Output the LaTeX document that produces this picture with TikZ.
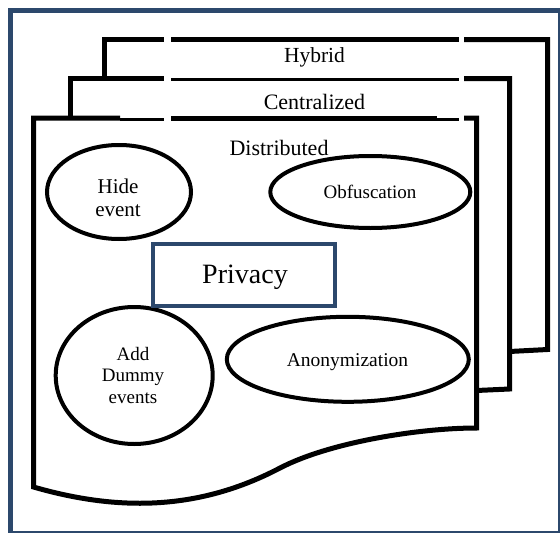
\documentclass[tikz,border=0pt]{standalone}
\usepackage{fontspec}
\setmainfont{Liberation Serif}
\usetikzlibrary{shapes.geometric}
\definecolor{frameblue}{RGB}{44,72,108}
\tikzset{
  sheet/.style={draw=black, line width=5pt, line join=miter},
  thinsheet/.style={draw=black, line width=2.5pt},
  oval/.style={ellipse, draw=black, line width=4pt, inner sep=0pt, fill=white},
  txt/.style={inner sep=0pt, text=black, align=center},
}
\begin{document}
\begin{tikzpicture}[x=1pt, y=-1pt]
\useasboundingbox (0,0) rectangle (560,533);
% outer frame
\draw[frameblue, line width=5pt] (10,10) rectangle (560.5,533.2);

% Hybrid sheet
\draw[sheet] (104.5,78.5) -- (104.5,39.5) -- (164,39.5);
\draw[sheet] (171,39.5) -- (459,39.5);
\draw[sheet] (464,39.5) -- (547.5,39.5) -- (547.5,349.5) -- (509.5,351.5);

% Centralized sheet
\draw[sheet] (70.5,118.5) -- (70.5,78.5) -- (164,78.5);
\draw[thinsheet] (171,79.5) -- (459,79.5);
\draw[sheet] (464,78.5) -- (509.5,78.5) -- (509.5,389) -- (476.5,390.5);

% Distributed sheet
\draw[sheet] (120,118.2) -- (33.5,118.2) -- (33.5,487)
  .. controls (120,512) and (200,510) .. (280,468)
  .. controls (330,442) and (420,428) .. (476.5,428)
  -- (476.5,118.2) -- (464,118.2);
\draw[thinsheet] (120,119.5) -- (164,119.5);
\draw[sheet] (171,118.2) -- (437,118.2);
\draw[thinsheet] (437,119.5) -- (459,119.5);

% sheet titles
\node[txt, anchor=base, font=\fontsize{21.5}{24}\selectfont] (hybrid) at (314.5,62) {Hybrid};
\node[txt, anchor=base, font=\fontsize{22}{24}\selectfont] (central) at (314.5,109.5) {Centralized};
\node[txt, anchor=base, font=\fontsize{22}{24}\selectfont] (distrib) at (279,155) {Distributed};

% ellipses
\node[oval, minimum width=144pt, minimum height=94pt] (hide) at (119,192) {};
\node[oval, minimum width=200pt, minimum height=72pt] (obf) at (370.3,192) {};
\node[oval, minimum width=157pt, minimum height=137pt] (dummy) at (134.2,375.5) {};
\node[oval, minimum width=242pt, minimum height=85pt] (anon) at (347.8,359.3) {};

\node[txt, font=\fontsize{21}{23}\selectfont] (hideT) at (118,197.4) {Hide\\event};
\node[txt, anchor=base, font=\fontsize{19}{21}\selectfont] (obfT) at (370,198.3) {Obfuscation};
\node[txt, font=\fontsize{19}{21.2}\selectfont] (dummyT) at (133,375.4) {Add\\Dummy\\events};
\node[txt, anchor=base, font=\fontsize{19.5}{21}\selectfont] (anonT) at (347.5,366.7) {Anonymization};

% Privacy box
\node[draw=frameblue, line width=4pt, minimum width=182.5pt, minimum height=62pt, inner sep=0pt, fill=white] (priv) at (243.75,275) {};
\node[txt, anchor=base, font=\fontsize{28}{30}\selectfont] (privT) at (245,283.3) {Privacy};
\end{tikzpicture}
\end{document}
